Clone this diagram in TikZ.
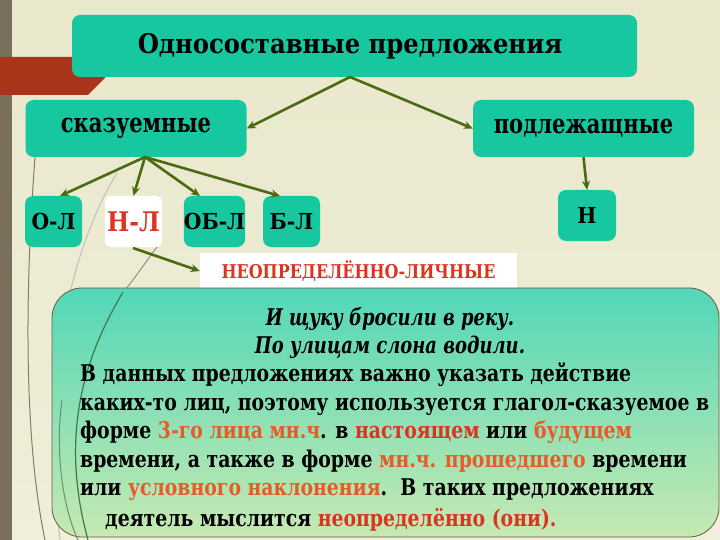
\documentclass[tikz,border=0pt]{standalone}
\usepackage{fontspec}
\setmainfont{DejaVu Serif}[FakeStretch=0.82]
\newfontfamily\itf{DejaVu Serif}[FakeStretch=0.78]
\newfontfamily\capf{DejaVu Serif}[FakeStretch=0.78]
\newfontfamily\titlef{DejaVu Serif}[FakeStretch=0.90]
\newfontfamily\smallf{DejaVu Serif}[FakeStretch=0.92]
\newfontfamily\nlf{DejaVu Serif}[FakeStretch=0.87]
\newfontfamily\neof{DejaVu Serif}[FakeStretch=0.84]
\usetikzlibrary{arrows.meta}
\definecolor{boxc}{HTML}{16C7A0}
\definecolor{arrc}{HTML}{4B6A12}
\definecolor{bgtop}{HTML}{E9E8CC}
\definecolor{bgbot}{HTML}{EFEFDA}
\definecolor{barc}{HTML}{7A6F5C}
\definecolor{redbar}{HTML}{A8341A}
\definecolor{bigtop}{HTML}{52D7B8}
\definecolor{bigbot}{HTML}{C6E9B2}
\definecolor{rtxt}{HTML}{DD3322}
\definecolor{otxt}{HTML}{E85A26}
\definecolor{linec}{HTML}{6E5A3C}
\definecolor{greenl}{HTML}{3E7A4A}
\begin{document}
\begin{tikzpicture}[x=1pt,y=-1pt,
  boxst/.style={fill=boxc, rounded corners=8pt, inner sep=0pt},
  smallbox/.style={boxst, minimum height=51, font=\smallf\bfseries\fontsize{22}{24}\selectfont},
  arr/.style={draw=arrc, line width=2.6pt, -{Stealth[length=9pt,width=8pt]}},
  ln/.style={anchor=base west, inner sep=0pt, font=\bfseries\fontsize{23}{28}\selectfont},
  lc/.style={anchor=base, inner sep=0pt, font=\itf\bfseries\itshape\fontsize{23}{28}\selectfont}]
\useasboundingbox (0,0) rectangle (720,540);
% background
\shade[top color=bgtop, bottom color=bgbot] (0,0) rectangle (720,540);
\fill[barc] (0,0) rectangle (12,540);
\fill[redbar] (0,57) -- (110,57) -- (105,78) -- (88,95) -- (0,95) -- cycle;
% decorative curves
\draw[linec!80, line width=1pt] (35,157) .. controls (28,250) and (20,420) .. (45,540);
\draw[gray!50, line width=1pt] (117,173) .. controls (70,250) and (40,380) .. (60,540);
\draw[linec!70, line width=1pt] (157,247) .. controls (140,270) and (130,285) .. (123,292);
% title and boxes
\node[boxst, minimum width=565, minimum height=62, font=\titlef\bfseries\fontsize{27}{30}\selectfont] (title) at (354.5,46) {\hspace*{-9pt}Односоставные предложения};
\node[boxst, minimum width=221, minimum height=57, font=\capf\bfseries\fontsize{27}{30}\selectfont] (skaz) at (136,128.5) {сказуемные};
\node[boxst, minimum width=221, minimum height=57, font=\capf\bfseries\fontsize{27}{30}\selectfont] (podl) at (583.5,128.5) {подлежащные};
\node[smallbox, minimum width=57] (ol) at (53.5,221.5) {О-Л};
\node[fill=white, rounded corners=6pt, inner sep=0pt, minimum width=57, minimum height=51, font=\nlf\bfseries\fontsize{27}{30}\selectfont, text=rtxt] (nl) at (133.5,221.5) {Н-Л};
\node[smallbox, minimum width=61] (obl) at (214.5,221.5) {ОБ-Л};
\node[smallbox, minimum width=57] (bl) at (291.5,221.5) {Б-Л};
\node[smallbox, minimum width=58] (n) at (587,215.5) {Н};
\node[fill=white, inner sep=0pt, minimum width=317, minimum height=36, font=\neof\bfseries\fontsize{19}{22}\selectfont, text=rtxt] (neo) at (358.5,271) {НЕОПРЕДЕЛЁННО-ЛИЧНЫЕ};
% arrows
\coordinate (tb) at (350,77);
\draw[arr] (tb) -- (skaz.east);
\draw[arr] (tb) -- (podl.west);
\coordinate (sb) at (145,157);
\draw[arr] (sb) -- (60,196);
\draw[arr] (sb) -- (nl.north);
\draw[arr] (sb) -- (200,196);
\draw[arr] (sb) -- (280,196);
\draw[arr] (podl.south) -- (n.north);
\draw[arr] (133,248) -- (neo.west);
% big box
\node[draw=linec, line width=0.8pt, rounded corners=30pt, top color=bigtop, bottom color=bigbot, minimum width=667, minimum height=249, inner sep=0pt] (big) at (385.5,412.5) {};
\draw[greenl, line width=1.2pt] (123,292) .. controls (95,340) and (55,420) .. (88,540);
\draw[greenl!80, line width=1pt] (62,400) .. controls (55,450) and (62,505) .. (78,540);
\node[lc] (l1) at (390,325) {И щуку бросили в реку.};
\node[lc] (l2) at (390,353) {По улицам слона водили.};
\node[ln] (l3) at (80,381) {В данных предложениях важно указать действие};
\node[ln] (l4) at (80,410) {каких-то лиц, поэтому используется глагол-сказуемое в};
\node[ln] (l5) at (80,438) {форме \textcolor{otxt}{3-го лица мн.ч}. в \textcolor{rtxt}{настоящем} или \textcolor{otxt}{будущем}};
\node[ln] (l6) at (80,467) {времени, а также в форме \textcolor{otxt}{мн.ч. прошедшего} времени};
\node[ln] (l7) at (80,495) {или \textcolor{otxt}{условного наклонения}.\ \ В таких предложениях};
\node[ln] (l8) at (105,526) {деятель мыслится \textcolor{rtxt}{неопределённо (они).}};
\end{tikzpicture}
\end{document}
